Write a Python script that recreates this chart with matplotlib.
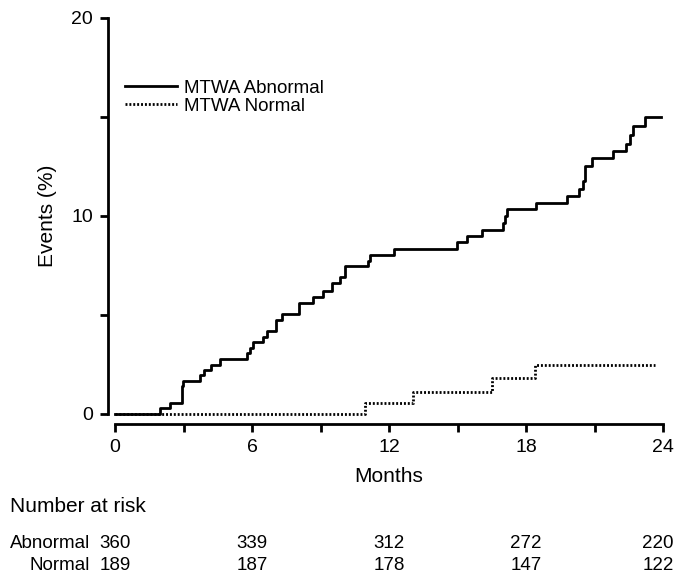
import numpy as np
import matplotlib.pyplot as plt
import matplotlib.transforms as mtransforms

plt.rcParams['font.family'] = ['Liberation Sans', 'DejaVu Sans']

# step times (months) and cumulative events (%)
abn_t = [0, 1.97, 2.4, 2.92, 2.97, 3.72, 3.9, 4.2, 4.6, 5.77, 5.9, 6.05, 6.5, 6.64,
         7.05, 7.3, 8.06, 8.67, 9.1, 9.5, 9.85, 10.07, 11.1, 11.15, 12.2, 14.97,
         15.4, 16.06, 17.0, 17.08, 17.15, 18.44, 19.8, 20.3, 20.5, 20.6, 20.9,
         21.83, 22.4, 22.56, 22.7, 23.2, 23.9]
abn_v = [0, 0.28, 0.56, 1.4, 1.67, 1.95, 2.23, 2.5, 2.78, 3.06, 3.34, 3.62, 3.9, 4.17,
         4.75, 5.04, 5.6, 5.9, 6.2, 6.6, 6.9, 7.45, 7.75, 8.05, 8.35, 8.7,
         9.0, 9.3, 9.65, 10.0, 10.35, 10.65, 11.0, 11.35, 11.75, 12.55, 12.95,
         13.3, 13.65, 14.1, 14.55, 15.0, 15.0]

norm_t = [0, 10.95, 13.07, 16.5, 18.4, 23.65]
norm_v = [0, 0.57, 1.13, 1.83, 2.47, 2.47]

risk_months = [0, 6, 12, 18, 24]
risk_abn = [360, 339, 312, 272, 220]
risk_norm = [189, 187, 178, 147, 122]

fig = plt.figure(figsize=(6.77, 5.76), dpi=100)
ax = fig.add_axes([115 / 677, 1 - 414 / 576, 548 / 677, 396 / 576])

ax.step(norm_t, norm_v, where='post', color='black', lw=2.0,
        linestyle=(0, (0.7, 0.7)), label='MTWA Normal', zorder=2, clip_on=False)
ax.step(abn_t, abn_v, where='post', color='black', lw=2.0,
        label='MTWA Abnormal', zorder=3, clip_on=False)

ax.set_xlim(0, 24)
ax.set_ylim(0, 20)
ax.set_xticks([0, 6, 12, 18, 24])
ax.set_xticks([3, 9, 15, 21], minor=True)
ax.set_yticks([0, 10, 20])
ax.set_yticks([5, 15], minor=True)

for s in ['top', 'right']:
    ax.spines[s].set_visible(False)
ax.spines['left'].set_position(('outward', 5))
ax.spines['bottom'].set_position(('outward', 7))
ax.spines['left'].set_linewidth(2)
ax.spines['bottom'].set_linewidth(2)
ax.tick_params(which='both', direction='out', width=2, length=6, labelsize=14,
               pad=5)

ax.set_xlabel('Months', fontsize=15, labelpad=8)
ax.set_ylabel('Events (%)', fontsize=15, labelpad=10)

leg = ax.legend(handles=ax.get_lines()[::-1], loc='upper left',
                bbox_to_anchor=(0.018, 0.845), frameon=False, fontsize=13.5,
                handlelength=2.8, handletextpad=0.35, labelspacing=0.05,
                borderaxespad=0, borderpad=0)

# number at risk table
trans = mtransforms.blended_transform_factory(ax.transData, fig.transFigure)
fig.text(10 / 677, 1 - 506 / 576, 'Number at risk', fontsize=15, va='center')
fig.text(90 / 677, 1 - 543 / 576, 'Abnormal', fontsize=13.5, va='center', ha='right')
fig.text(90 / 677, 1 - 565 / 576, 'Normal', fontsize=13.5, va='center', ha='right')
for m, a, n in zip(risk_months, risk_abn, risk_norm):
    tr = trans
    if m == risk_months[-1]:
        # last column sits a little left so it stays inside the figure
        tr = trans + mtransforms.ScaledTranslation(-0.05, 0, fig.dpi_scale_trans)
    ax.text(m, 1 - 543 / 576, str(a), transform=tr, fontsize=13.5,
            ha='center', va='center')
    ax.text(m, 1 - 565 / 576, str(n), transform=tr, fontsize=13.5,
            ha='center', va='center')

fig.savefig('out.png', dpi=100)
